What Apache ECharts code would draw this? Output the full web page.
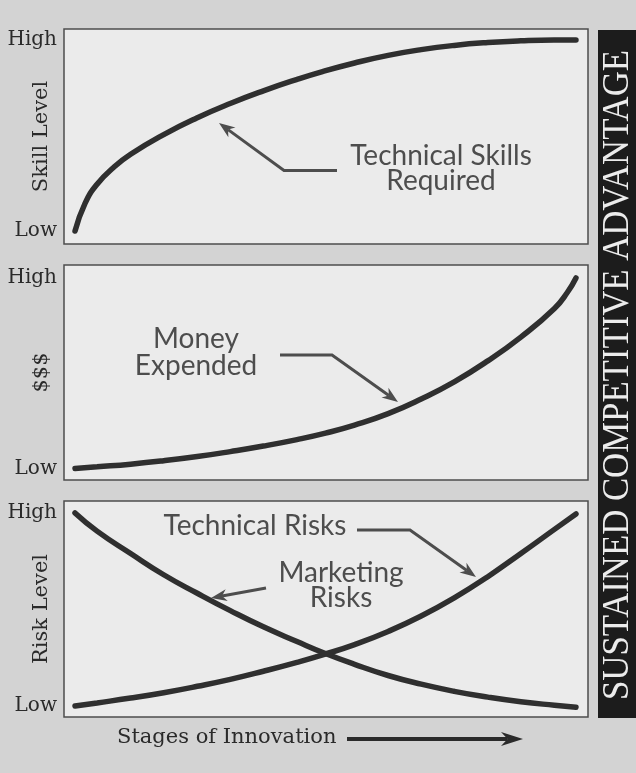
<!DOCTYPE html>
<html>
<head>
<meta charset="utf-8">
<script src="https://cdn.jsdelivr.net/npm/echarts@6/dist/echarts.min.js"></script>
<style>
html,body{margin:0;padding:0;background:#d3d3d3;}
#chart{width:636px;height:773px;}
</style>
</head>
<body>
<div id="chart"></div>
<script>
// ---- data (x = stage of innovation 0..100, y = level 0 Low .. 100 High) ----
const skillX = [0, 2.0, 4.4, 7.8, 11.1, 17.7, 24.3, 31.1, 37.6, 44.2, 49.4, 55.8, 62.5, 69.1, 75.7, 82.4, 89.0, 95.6, 100];
const skillY = [0, 14.5, 24.5, 33.5, 40.2, 50.5, 59.2, 66.9, 73.4, 79.3, 83.5, 88.0, 92.0, 95.0, 97.2, 98.7, 99.6, 100, 100];

const moneyX = [0, 4.4, 11.1, 17.7, 24.4, 31.0, 37.6, 44.3, 50.0, 55.8, 62.5, 69.1, 75.7, 82.4, 89.0, 95.7, 98.3, 100];
const moneyY = [0, 0.9, 2.3, 4.1, 6.3, 8.9, 11.8, 15.2, 18.6, 22.8, 28.8, 36.5, 45.5, 56.5, 69.0, 84.0, 92.5, 100];

const riskX = [0, 4.4, 11.1, 17.7, 24.4, 31.0, 37.6, 44.3, 49.6, 55.8, 62.5, 69.1, 75.7, 82.4, 89.0, 95.7, 100];
const techRiskY = [0, 1.6, 4.1, 6.9, 10.2, 13.8, 18.0, 22.6, 26.6, 31.8, 38.6, 46.6, 56.0, 67.0, 79.0, 91.5, 99.5];
const mktRiskY = [100, 90.6, 79.0, 68.0, 58.4, 49.4, 41.0, 33.4, 27.6, 21.6, 15.8, 11.3, 7.6, 4.6, 2.2, 0.4, -0.6];

const levelTicks = [0, 100];
const levelNames = {0: 'Low', 100: 'High'};
const yNames = ['Skill Level', '$$$', 'Risk Level'];
const sideTitle = 'SUSTAINED COMPETITIVE ADVANTAGE';
const xTitle = 'Stages of Innovation';

const zip = (xs, ys) => xs.map((x, i) => [x, ys[i]]);

// ---- layout ----
const LINE = '#2f2f2f';
const serif = 'DejaVu Serif';
const sans = 'Lato';
const grids = [
  {left: 64, width: 524, top: 29, height: 215},
  {left: 64, width: 524, top: 265, height: 215},
  {left: 64, width: 524, top: 501, height: 216}
];
const yRanges = [[-6.8, 105.8], [-6.0, 106.8], [-5.7, 106.2]];

const chart = echarts.init(document.getElementById('chart'), null, {renderer: 'canvas'});

function arrow(pts, headLen, headW, lw, color) {
  const n = pts.length;
  const tip = pts[n - 1], prev = pts[n - 2];
  let dx = tip[0] - prev[0], dy = tip[1] - prev[1];
  const L = Math.hypot(dx, dy); dx /= L; dy /= L;
  const px = -dy, py = dx;
  const base = [tip[0] - dx * headLen, tip[1] - dy * headLen];
  const notch = [tip[0] - dx * headLen * 0.7, tip[1] - dy * headLen * 0.7];
  const linePts = pts.slice(0, n - 1).concat([notch]);
  return [
    {type: 'polyline', shape: {points: linePts}, style: {stroke: color, lineWidth: lw, fill: null, lineJoin: 'miter'}, z: 50},
    {type: 'polygon', shape: {points: [tip, [base[0] + px * headW, base[1] + py * headW], notch, [base[0] - px * headW, base[1] - py * headW]]},
      style: {fill: color}, z: 50}
  ];
}

// measure side title to fit the black band
const SIDE_FONT = 'Liberation Serif';
const mctx = document.createElement('canvas').getContext('2d');
mctx.font = '38px "' + SIDE_FONT + '"';
const sideW = mctx.measureText(sideTitle).width;
const sideScale = 650 / sideW;

const ANN = '#4d4d4d';
const annText = (txt, x, y) => ({
  type: 'text', x: x, y: y, z: 60,
  style: {text: txt, fontFamily: sans, fontSize: 28, fill: ANN, align: 'center', verticalAlign: 'middle'}
});

const graphic = [
  {type: 'rect', shape: {x: 598, y: 30, width: 38, height: 688}, style: {fill: '#1c1c1c'}, z: 1},
  {type: 'text', x: 618, y: 375, rotation: Math.PI / 2, scaleX: sideScale, z: 2,
    style: {text: sideTitle, fontFamily: SIDE_FONT, fontSize: 38, fill: '#ececec', align: 'center', verticalAlign: 'middle'}},
  annText('Technical Skills', 441, 156),
  annText('Required', 441, 181),
  annText('Money', 196, 339),
  annText('Expended', 196, 366),
  annText('Technical Risks', 255, 526),
  annText('Marketing', 341, 573),
  annText('Risks', 341, 598),
  {type: 'text', x: 117, y: 738, z: 60,
    style: {text: xTitle, fontFamily: serif, fontSize: 21, fill: '#2a2a2a', align: 'left', verticalAlign: 'middle'}},
  ...arrow([[337, 170.5], [284, 170.5], [219, 123]], 16, 6, 3, ANN),
  ...arrow([[280, 355], [332, 355], [398, 402]], 16, 6, 3, ANN),
  ...arrow([[357, 530], [410, 530], [476, 577]], 16, 6, 3, ANN),
  ...arrow([[266, 588], [211, 598]], 16, 6, 3, ANN),
  ...arrow([[347, 739], [523, 739]], 22, 7, 4, '#2a2a2a')
];

const option = {
  backgroundColor: '#d3d3d3',
  animation: false,
  grid: grids.map(g => Object.assign({show: true, backgroundColor: '#ebebeb', borderColor: '#4d4d4d', borderWidth: 1.5,
    containLabel: false, outerBoundsMode: 'none'}, g)),
  xAxis: grids.map((g, i) => ({
    type: 'value', gridIndex: i, min: -2.2, max: 102.4,
    axisLine: {show: false}, axisTick: {show: false}, axisLabel: {show: false}, splitLine: {show: false}
  })),
  yAxis: grids.map((g, i) => ({
    type: 'value', gridIndex: i, min: yRanges[i][0], max: yRanges[i][1],
    name: yNames[i], nameLocation: 'middle', nameRotate: 90, nameGap: 12, nameMoveOverlap: false,
    nameTextStyle: {fontFamily: serif, fontSize: 21, color: '#2a2a2a'},
    axisLine: {show: false}, axisTick: {show: false}, splitLine: {show: false},
    axisLabel: {customValues: levelTicks, formatter: v => levelNames[v] || '', fontFamily: serif, fontSize: 20, color: '#2a2a2a', margin: 7}
  })),
  series: [
    {data: zip(skillX, skillY), xAxisIndex: 0, yAxisIndex: 0},
    {data: zip(moneyX, moneyY), xAxisIndex: 1, yAxisIndex: 1},
    {data: zip(riskX, techRiskY), xAxisIndex: 2, yAxisIndex: 2},
    {data: zip(riskX, mktRiskY), xAxisIndex: 2, yAxisIndex: 2}
  ].map(s => Object.assign({type: 'line', smooth: 0.5, showSymbol: false, silent: true,
    lineStyle: {color: LINE, width: 5.5, cap: 'round'}}, s)),
  graphic: graphic
};
chart.setOption(option);
</script>
</body>
</html>
